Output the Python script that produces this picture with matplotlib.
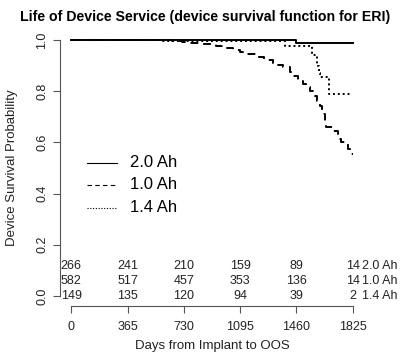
import matplotlib
matplotlib.use("Agg")
import matplotlib.pyplot as plt
import numpy as np

plt.rcParams['font.family'] = ['Liberation Sans', 'DejaVu Sans']

# survival curves (step functions), days and survival probability
days_20 = [0, 1455, 1825]
surv_20 = [1.0, 0.988, 0.988]

days_10 = [0, 560, 650, 720, 766, 850, 940, 1000, 1050, 1091, 1135, 1200, 1250,
           1308, 1340, 1373, 1416, 1440, 1470, 1500, 1524, 1550, 1578, 1595,
           1611, 1625, 1643, 1650, 1695, 1727, 1750, 1773, 1795, 1805, 1815, 1825]
surv_10 = [1.0, 0.998, 0.995, 0.992, 0.989, 0.983, 0.976, 0.968, 0.960, 0.952,
           0.946, 0.935, 0.923, 0.910, 0.902, 0.893, 0.874, 0.860, 0.841, 0.828,
           0.815, 0.800, 0.782, 0.763, 0.743, 0.711, 0.678, 0.661, 0.645, 0.613,
           0.600, 0.594, 0.575, 0.567, 0.555, 0.555]

days_14 = [0, 590, 1383, 1563, 1593, 1606, 1611, 1671, 1805]
surv_14 = [1.0, 0.995, 0.976, 0.940, 0.900, 0.870, 0.854, 0.789, 0.789]

# numbers at risk
risk_days = [0, 365, 730, 1095, 1460, 1825]
risk_20 = [266, 241, 210, 159, 89, 14]
risk_10 = [582, 517, 457, 353, 136, 14]
risk_14 = [149, 135, 120, 94, 39, 2]
groups = ['2.0 Ah', '1.0 Ah', '1.4 Ah']

fig = plt.figure(figsize=(4.11, 3.54), dpi=100)
ax = fig.add_axes([60/411, 0.135, 304/411, 0.781])

ax.step(days_20, surv_20, where='post', color='black', lw=1.4, ls='-')
ax.step(days_10, surv_10, where='post', color='black', lw=1.4, ls=(0, (4, 3)))
ax.step(days_14, surv_14, where='post', color='black', lw=1.4, ls=(0, (1, 1.5)))

ax.set_xlim(-73, 1898)
ax.set_ylim(-0.04, 1.04)

# numbers at risk table
rows = [risk_20, risk_10, risk_14]
row_y = [0.117, 0.059, 0.0]
for vals, y, g in zip(rows, row_y, groups):
    for d, v in zip(risk_days, vals):
        ax.text(d, y, str(v), ha='center', va='center', fontsize=9, color='#222222')
    ax.text(1885, y, g, ha='left', va='center', fontsize=9, color='#222222', clip_on=False)

# legend without box
leg_y = [0.52, 0.435, 0.345]
styles = ['-', (0, (4, 3)), (0, (1, 1.5))]
for g, y, s in zip(groups, leg_y, styles):
    ax.plot([100, 295], [y, y], color='black', lw=0.8, ls=s)
    ax.text(380, y, g, ha='left', va='center', fontsize=12)

# R style axes
for side in ['top', 'right']:
    ax.spines[side].set_visible(False)
ax.spines['left'].set_bounds(0, 1)
ax.spines['bottom'].set_bounds(0, 1825)
ax.spines['left'].set_color('#555555')
ax.spines['bottom'].set_color('#555555')
ax.set_xticks(risk_days)
ax.set_yticks([0, 0.2, 0.4, 0.6, 0.8, 1.0])
ax.set_yticklabels(['0.0', '0.2', '0.4', '0.6', '0.8', '1.0'], rotation=90, va='center')
ax.tick_params(axis='both', colors='#555555', labelcolor='#222222', labelsize=9,
               length=5, width=0.8)
ax.tick_params(axis='x', pad=6)

ax.set_xlabel('Days from Implant to OOS', fontsize=9.5, color='#222222', labelpad=5)
ax.set_ylabel('Device Survival Probability', fontsize=9.5, color='#222222', labelpad=13)
fig.text(0.5, 0.952, 'Life of Device Service (device survival function for ERI)',
         ha='center', va='center', fontsize=10.2, fontweight='bold')

fig.savefig('out.png', dpi=100)
